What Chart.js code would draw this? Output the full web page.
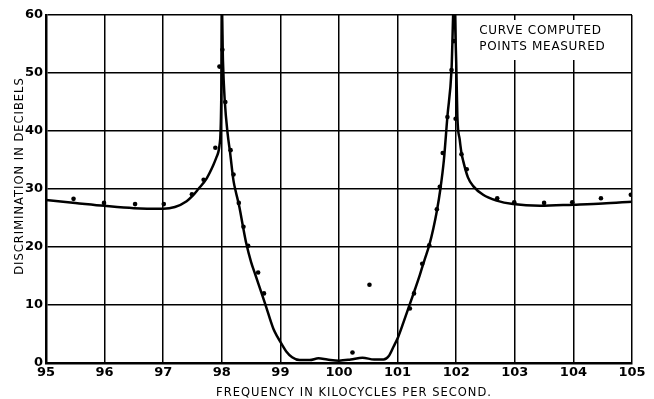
<!DOCTYPE html>
<html>
<head>
<meta charset="utf-8">
<script src="https://cdn.jsdelivr.net/npm/chart.js@4/dist/chart.umd.min.js"></script>
<style>
  body { margin: 0; background: #fff; }
  #wrap { width: 654px; height: 399px; }
</style>
</head>
<body>
<div id="wrap"><canvas id="myChart" width="654" height="399"></canvas></div>
<script>
// computed curve (kc/s, dB)
const curveFreq = [95.0, 95.5, 96.0, 96.5, 97.0, 97.2, 97.4, 97.5, 97.6, 97.74, 97.85, 97.91, 97.96, 97.99, 98.0,
  98.02, 98.05, 98.1, 98.14, 98.2, 98.24, 98.3, 98.36, 98.42, 98.5, 98.57, 98.68, 98.74, 98.88, 98.95, 99.02,
  99.1, 99.2, 99.33, 99.5, 99.65, 99.8, 100.0, 100.2, 100.4, 100.6, 100.76, 100.85, 100.93, 101.01, 101.1,
  101.21, 101.3, 101.38, 101.46, 101.54, 101.61, 101.67, 101.73, 101.79, 101.85, 101.92, 101.96, 102.0,
  102.02, 102.06, 102.09, 102.12, 102.2, 102.29, 102.46, 102.69, 102.97, 103.43, 104.0, 104.5, 105.0]
const curveDb = [28.1, 27.6, 27.1, 26.7, 26.6, 26.9, 27.9, 28.8, 30.0, 31.8, 34.0, 35.5, 37.5, 45, 62,
  52, 45.3, 39.5, 36.4, 31.4, 29.5, 26.9, 23.6, 20.5, 17.4, 15.3, 12.0, 10.2, 5.9, 4.5, 3.3,
  2.0, 1.0, 0.5, 0.5, 0.8, 0.6, 0.4, 0.6, 0.9, 0.6, 0.6, 1.2, 2.8, 4.5, 7.0,
  10.2, 12.8, 15.2, 17.8, 20.3, 23.2, 26.2, 30.0, 35.0, 42.5, 50.5, 62, 52,
  42.5, 38.5, 36.2, 34.8, 32.0, 30.5, 29.0, 28.0, 27.4, 27.1, 27.3, 27.5, 27.8]

// measured points
const measFreq = [95.47, 95.99, 96.52, 97.01, 97.49, 97.69, 97.89, 97.96, 98.01, 98.06, 98.15, 98.2, 98.29,
  98.37, 98.45, 98.62, 98.72, 100.23, 100.52, 101.21, 101.28, 101.42, 101.54, 101.67, 101.72, 101.77,
  101.85, 101.92, 101.96, 101.99, 102.09, 102.18, 102.7, 102.99, 103.5, 103.98, 104.47, 104.98]
const measDb = [28.3, 27.6, 27.4, 27.4, 29.1, 31.6, 37.1, 51.1, 54.0, 45.0, 36.7, 32.5, 27.6,
  23.5, 20.2, 15.6, 12.0, 1.8, 13.5, 9.4, 12.0, 17.1, 20.3, 26.5, 30.4, 36.2,
  42.4, 50.5, 55.5, 42.1, 36.0, 33.4, 28.4, 27.7, 27.6, 27.7, 28.4, 29.0]

const legendLines = ['CURVE COMPUTED', 'POINTS MEASURED']
const xTitle = 'FREQUENCY IN KILOCYCLES PER SECOND.'
const yTitle = 'DISCRIMINATION IN DECIBELS'

const font = '"DejaVu Sans", sans-serif'

const annotate = {
    id: 'annotate',
    beforeDatasetsDraw(chart) {
        const { ctx, chartArea } = chart
        const x0 = chart.scales.x.getPixelForValue(102) + 1
        ctx.save()
        ctx.fillStyle = '#fff'
        ctx.fillRect(x0, chartArea.top + 5, chartArea.right - x0 - 1.5, 40)
        ctx.fillStyle = '#000'
        ctx.font = '12px ' + font
        ctx.letterSpacing = '0.7px'
        ctx.textBaseline = 'middle'
        ctx.fillText(legendLines[0], x0 + 22, chartArea.top + 16)
        ctx.fillText(legendLines[1], x0 + 22, chartArea.top + 32)
        ctx.restore()
    },
    afterDraw(chart) {
        const { ctx } = chart
        ctx.save()
        ctx.fillStyle = '#000'
        ctx.font = '11.5px ' + font
        ctx.letterSpacing = '1px'
        ctx.textAlign = 'center'
        ctx.textBaseline = 'middle'
        ctx.fillText(xTitle, 354, 393)
        ctx.translate(20, 176)
        ctx.rotate(-Math.PI / 2)
        ctx.fillText(yTitle, 0, 0)
        ctx.restore()
    }
}

new Chart(document.getElementById('myChart').getContext('2d'), {
    type: 'line',
    data: {
        datasets: [
            {
                label: 'Curve computed',
                data: curveFreq.map((f, i) => ({ x: f, y: curveDb[i] })),
                borderColor: '#000',
                borderWidth: 2.5,
                pointRadius: 0,
                cubicInterpolationMode: 'monotone',
                fill: false
            },
            {
                label: 'Points measured',
                data: measFreq.map((f, i) => ({ x: f, y: measDb[i] })),
                showLine: false,
                pointRadius: 2.3,
                pointBackgroundColor: '#000',
                pointBorderWidth: 0
            }
        ]
    },
    options: {
        responsive: false,
        animation: false,
        devicePixelRatio: 1,
        layout: { padding: { top: 15, right: 22, left: 0, bottom: 0 } },
        plugins: { legend: { display: false }, tooltip: { enabled: false } },
        scales: {
            x: {
                type: 'linear',
                min: 95,
                max: 105,
                afterFit: s => { s.height = 36 },
                ticks: { stepSize: 1, padding: 2, color: '#000', font: { family: font, size: 13, weight: 'bold' } },
                grid: { color: '#000', lineWidth: 1.5, drawTicks: false },
                border: { color: '#000', width: 2.5 }
            },
            y: {
                min: 0,
                max: 60,
                afterFit: s => { s.width = 46 },
                ticks: { stepSize: 10, padding: 3, color: '#000', font: { family: font, size: 13, weight: 'bold' } },
                grid: { color: '#000', lineWidth: 1.5, drawTicks: false },
                border: { color: '#000', width: 2.5 }
            }
        }
    },
    plugins: [annotate]
})
</script>
</body>
</html>
